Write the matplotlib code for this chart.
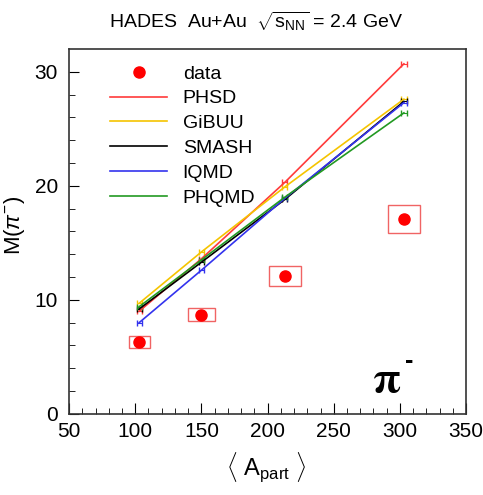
import matplotlib
matplotlib.use("Agg")
import matplotlib.pyplot as plt
from matplotlib.patches import Rectangle
from matplotlib.lines import Line2D

plt.rcParams['font.family'] = ['Liberation Sans', 'DejaVu Sans']
plt.rcParams['mathtext.fontset'] = 'custom'
plt.rcParams['mathtext.rm'] = 'Liberation Sans'
plt.rcParams['mathtext.it'] = 'Liberation Sans:italic'

# mean number of participants, pion multiplicity
apart = [103, 150, 213, 303]
data_y = [6.3, 8.7, 12.1, 17.1]
sys_x = [8, 10, 12, 12]
sys_y = [0.5, 0.6, 0.9, 1.2]

# transport model predictions
models = ["PHSD", "GiBUU", "SMASH", "IQMD", "PHQMD"]
phsd = [9.0, 13.6, 20.3, 30.7]
gibuu = [9.7, 14.2, 19.9, 27.6]
smash = [9.2, 13.3, 18.8, 27.4]
iqmd = [8.0, 12.6, 18.9, 27.3]
phqmd = [9.4, 13.5, 19.0, 26.4]
colors = ["#ff3b3b", "#f5c400", "black", "#3333ee", "#229922"]

fig = plt.figure(figsize=(4.83, 4.95), dpi=100)
ax = fig.add_axes([0.143, 0.164, 0.822, 0.737])

handles = [Line2D([], [], ls='none', marker='o', color='red', markersize=8)]
for name, vals, c in zip(models, [phsd, gibuu, smash, iqmd, phqmd], colors):
    ax.errorbar(apart, vals, xerr=2, color=c, lw=1.2, capsize=2, elinewidth=0.8, zorder=3)
    handles.append(Line2D([], [], color=c, lw=1.2))

for x, y, dx, dy in zip(apart, data_y, sys_x, sys_y):
    ax.add_patch(Rectangle((x - dx, y - dy), 2 * dx, 2 * dy, fill=False,
                           edgecolor='#f06464', lw=1.0, zorder=4))
ax.plot(apart, data_y, 'o', color='red', markersize=8, zorder=5)

ax.legend(handles, ["data"] + models, loc='upper left', bbox_to_anchor=(0.103, 0.956),
          frameon=False, fontsize=14, handlelength=2.94, handletextpad=0.8,
          labelspacing=0.37, borderpad=0, borderaxespad=0)

ax.set_xlim(50, 350)
ax.set_ylim(0, 32)
ax.set_xticks(range(50, 351, 50))
ax.set_xticks(range(50, 351, 10), minor=True)
ax.set_yticks([0, 10, 20, 30])
ax.set_yticks(range(0, 32, 2), minor=True)
ax.tick_params(which='both', direction='in', top=False, right=False, labelsize=15)
ax.tick_params(axis='x', which='major', length=8, pad=6)
ax.tick_params(axis='x', which='minor', length=4)
ax.tick_params(axis='y', which='major', length=7, pad=8)
ax.tick_params(axis='y', which='minor', length=4)
for s in ax.spines.values():
    s.set_linewidth(1.2)
    s.set_color('#333333')

ax.set_ylabel(r"M($\pi^{-}$)", fontsize=16)
ax.yaxis.set_label_coords(-0.105, 0.516)
ax.set_xlabel(r"$\langle$ A$_{\rm part}$ $\rangle$", fontsize=17)
ax.xaxis.set_label_coords(0.497, -0.10)

ax.text(0.763, 0.06, "π", transform=ax.transAxes, fontsize=32,
        family='STIXGeneral', fontweight='bold', va='baseline')
ax.text(0.845, 0.125, "-", transform=ax.transAxes, fontsize=18,
        fontweight='bold', va='baseline')
fig.text(0.226, 0.956, r"HADES  Au+Au  $\sqrt{\mathrm{s}_{\mathrm{NN}}}$ = 2.4 GeV",
         ha='left', va='center', fontsize=14)

fig.savefig("out.png", dpi=100)
